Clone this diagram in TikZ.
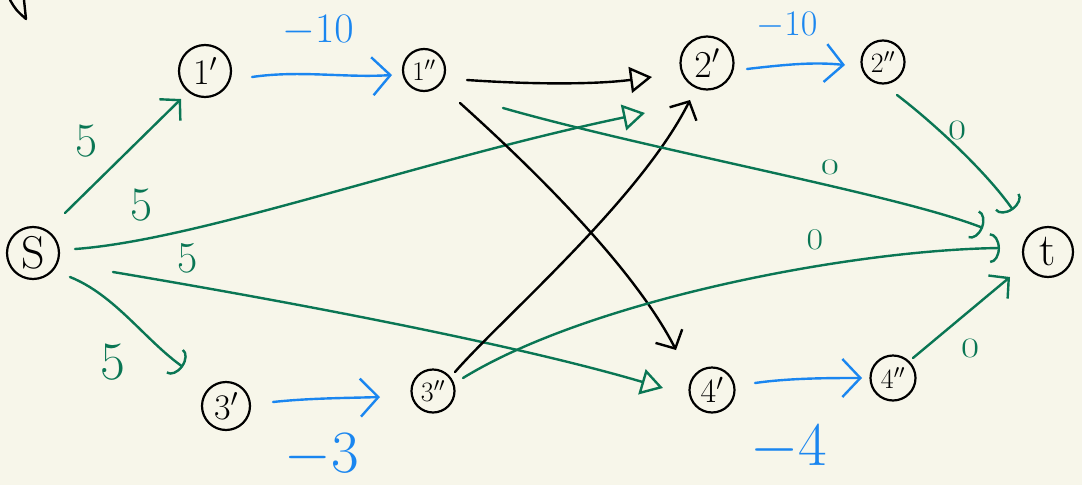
\documentclass[tikz,border=0pt]{standalone}
\usepackage{fix-cm}
\usepackage{fontspec}
\usetikzlibrary{arrows.meta}
\definecolor{bg}{RGB}{247,246,234}
\definecolor{grn}{RGB}{10,118,84}
\definecolor{blu}{RGB}{26,134,240}
\newcommand{\myfs}[1]{\fontsize{#1}{#1}\selectfont}
\begin{document}
\begin{tikzpicture}[x=1pt,y=-1pt,
  nd/.style={circle,draw=black,line width=2.2pt,inner sep=0pt,minimum size=#1},
  ln/.style={line width=2.4pt,line cap=round,line join=round},
  gr/.style={ln,draw=grn},
  bl/.style={ln,draw=blu},
  bk/.style={ln,draw=black},
  barb/.style={-{Straight Barb[length=14pt,width=30pt]}},
  bigbarb/.style={-{Straight Barb[length=18pt,width=38pt]}},
  hook/.style={-{Arc Barb[length=10pt,width=30pt]}},
  tri/.style={-{Triangle[open,length=22pt,width=26pt]}},
  glab/.style={text=grn,inner sep=0pt},
  blab/.style={text=blu,inner sep=0pt}]
\useasboundingbox (0,0) rectangle (1082,485);
\fill[bg] (0,0) rectangle (1082,485);

% stray stroke at the top left
\draw[bk] (10,0) .. controls (16,10) .. (26,19) -- (24,0);

% nodes
\node[nd=52pt,font=\myfs{46}] (s)   at (33,253)  {S};
\node[nd=52pt,font=\myfs{36}] (n1a) at (205,71)  {$1'$};
\node[nd=42pt,font=\myfs{27}] (n1b) at (424,70)  {$1''$};
\node[nd=53pt,font=\myfs{38}] (n2a) at (707,63)  {$2'$};
\node[nd=43pt,font=\myfs{28}] (n2b) at (883,62)  {$2''$};
\node[nd=50pt,font=\myfs{46}] (t)   at (1048,252) {t};
\node[nd=48pt,font=\myfs{36}] (n3a) at (226,406) {$3'$};
\node[nd=43pt,font=\myfs{28}] (n3b) at (433,391) {$3''$};
\node[nd=45pt,font=\myfs{34}] (n4a) at (712,390) {$4'$};
\node[nd=45pt,font=\myfs{28}] (n4b) at (893,378) {$4''$};

% green edges from s
\draw[gr,barb] ([shift={(32,-40)}]s.center) -- ([shift={(-24,28)}]n1a.center);
\draw[gr,tri] ([shift={(42,-4)}]s.center) .. controls (200,240) and (420,160) .. ([shift={(-62,50)}]n2a.center);
\draw[gr,tri] ([shift={(80,19)}]s.center) .. controls (250,295) and (500,340) .. ([shift={(-49,-2)}]n4a.center);
\draw[gr,hook] ([shift={(37,24)}]s.center) .. controls (115,295) and (145,340) .. ([shift={(-43,-39)}]n3a.center);

% blue edges
\draw[bl,bigbarb] ([shift={(47,6)}]n1a.center) .. controls (300,70) and (345,78) .. ([shift={(-32,5)}]n1b.center);
\draw[bl,bigbarb] ([shift={(40,6)}]n2a.center) .. controls (790,64) and (815,62) .. ([shift={(-38,3)}]n2b.center);
\draw[bl,bigbarb] ([shift={(47,-4)}]n3a.center) .. controls (310,398) and (350,398) .. ([shift={(-53,6)}]n3b.center);
\draw[bl,bigbarb] ([shift={(43,-7)}]n4a.center) .. controls (790,378) and (830,378) .. ([shift={(-31,0)}]n4b.center);

% black edges
\draw[bk,tri] ([shift={(43,10)}]n1b.center) .. controls (540,85) and (600,84) .. ([shift={(-55,14)}]n2a.center);
\draw[bk,barb] ([shift={(36,33)}]n1b.center) .. controls (540,175) and (635,270) .. ([shift={(-36,-40)}]n4a.center);
\draw[bk,barb] ([shift={(22,-19)}]n3b.center) .. controls (500,320) and (640,200) .. ([shift={(-17,37)}]n2a.center);

% green edges into t
\draw[gr,hook] ([shift={(79,38)}]n1b.center) .. controls (650,150) and (900,195) .. ([shift={(-65,-24)}]t.center);
\draw[gr,hook] ([shift={(30,-13)}]n3b.center) .. controls (590,300) and (850,250) .. ([shift={(-48,-4)}]t.center);
\draw[gr,hook] ([shift={(14,33)}]n2b.center) .. controls (930,120) and (985,170) .. ([shift={(-35,-42)}]t.center);
\draw[gr,barb] ([shift={(20,-20)}]n4b.center) -- ([shift={(-38,25)}]t.center);

% labels
\node[glab,font=\myfs{48}] (l1) at (87,141)  {5};
\node[glab,font=\myfs{48}] (l2) at (142,205) {5};
\node[glab,font=\myfs{44}] (l3) at (188,258) {5};
\node[glab,font=\myfs{54}] (l4) at (113,362) {5};
\node[blab,font=\myfs{42}] (l5) at (318,31)  {$-10$};
\node[blab,font=\myfs{36}] (l6) at (787,25)  {$-10$};
\node[blab,font=\myfs{60}] (l7) at (322,456) {$-3$};
\node[blab,font=\myfs{62}] (l8) at (789,448) {$-4$};
\node[glab,font=\myfs{28}] (l9)  at (957,130) {\scalebox{1.4}[1]{0}};
\node[glab,font=\myfs{22}] (l10) at (830,167) {\scalebox{1.8}[1]{0}};
\node[glab,font=\myfs{30}] (l11) at (815,240) {\scalebox{1.2}[1]{0}};
\node[glab,font=\myfs{28}] (l12) at (970,348) {\scalebox{1.4}[1]{0}};
\end{tikzpicture}
\end{document}
